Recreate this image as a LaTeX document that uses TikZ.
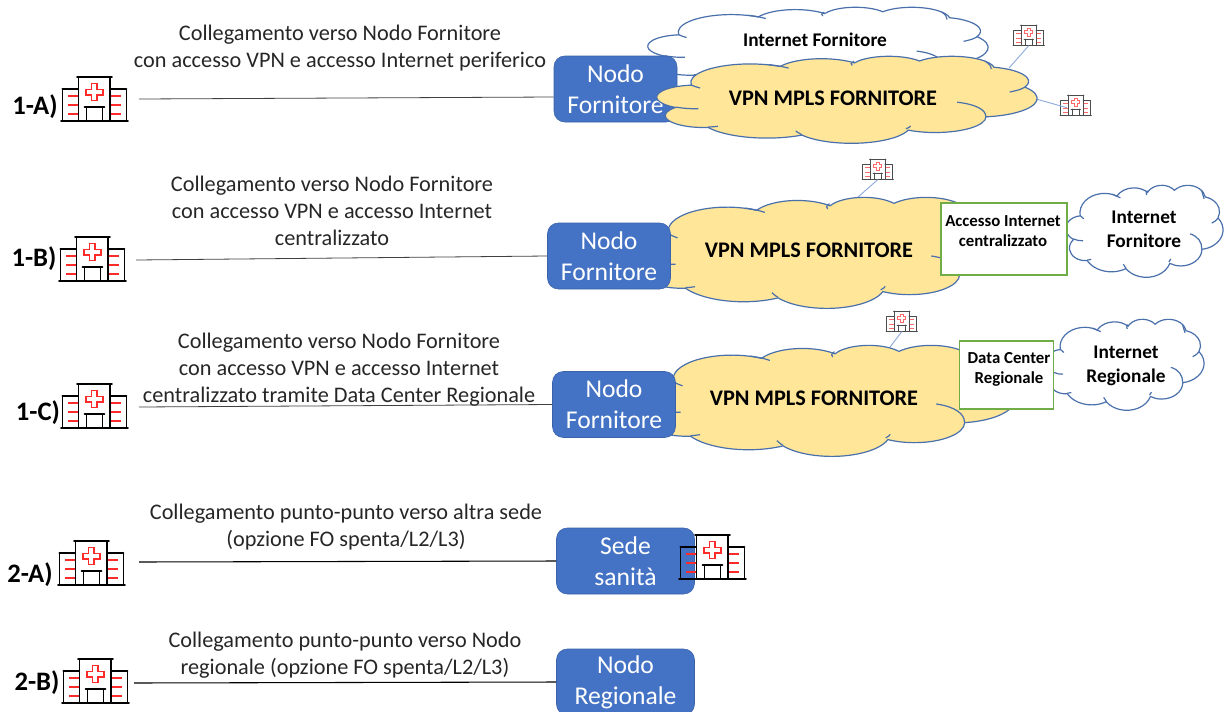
\documentclass[tikz,border=0pt]{standalone}
\usepackage{fontspec}
\setmainfont{Carlito}
\usetikzlibrary{calc}
\definecolor{nodeblue}{HTML}{4472C4}
\definecolor{nodeline}{HTML}{2F528F}
\definecolor{cloudyellow}{HTML}{FFE699}
\definecolor{cloudline}{HTML}{4A70AC}
\definecolor{boxgreen}{HTML}{70AD47}
\definecolor{linkblue}{HTML}{8FAADC}
\definecolor{crossred}{HTML}{FF2A2A}
\definecolor{textgrey}{HTML}{262626}
\tikzset{
  pa/.style n args={4}{x radius=#1,y radius=#2,
    start angle={atan2(#1*sin(#3),#2*cos(#3))},
    delta angle={mod(atan2(#1*sin(#3+#4),#2*cos(#3+#4))-atan2(#1*sin(#3),#2*cos(#3))+720,360)}},
  cloudbox/.style 2 args={x={#1*.75pt/432},y={-#2*.75pt/432}},
  yellowcloud/.style={fill=cloudyellow,draw=cloudline,line width=.9pt},
  whitecloud/.style={fill=white,draw=cloudline,line width=.9pt},
  pptcloud/.pic={
    \path[pic actions] (39,143.7) arc[pa={67.53}{91.9}{-190.49}{123.78}]
      arc[pa={53.33}{72.67}{-144.1}{89.95}] arc[pa={43.65}{59.45}{-145.81}{99.72}]
      arc[pa={48.57}{65.95}{-130.99}{117.24}] arc[pa={53.33}{72.73}{-78.71}{109.03}]
      arc[pa={67.75}{92.2}{-46.27}{130.27}] arc[pa={57.85}{78.67}{.63}{114.03}]
      arc[pa={67.52}{92.15}{22.45}{115.17}] arc[pa={77.2}{105.43}{66.24}{75.71}]
      arc[pa={43.6}{59.18}{-274.94}{146.74}] arc[pa={43.45}{59.45}{-246.83}{152.52}] -- cycle;
    \path[pic actions,fill=none] (46.93,261.77) arc[pa={43.45}{59.45}{86.74}{26.43}]
      (69.28,348.99) arc[pa={43.6}{59.18}{73.61}{11.45}]
      (164.78,390.9) arc[pa={67.52}{92.15}{137.62}{15.23}]
      (288.27,347.51) .. controls (287,354) .. (283,361)
      (341.29,229.54) .. controls (363,240) and (374,268) .. (373.8,301)
      (417.98,155.67) .. controls (413,167) .. (401,179)
      (380,65) .. controls (379,45) .. (373,25)
      (222,47) .. controls (220,38) .. (224,26)
      (149.6,60) .. controls (140,50) .. (127,43)
      (39,143.7) .. controls (42,150) .. (49,159);
  },
  hospital/.pic={
    \path[fill=white] (17.3,0) rectangle (49,44);
    \draw[line cap=round] (16,0) -- (51,0) (17.3,0) -- (17.3,44) (49,0) -- (49,44)
      (1.3,11.7) -- (17.3,11.7) (1.3,11.7) -- (1.3,44) (49,11.7) -- (65.5,11.7) (65.5,11.7) -- (65.5,44)
      (0,44) -- (67,44) (23.5,30) -- (43.5,30) (25.5,30) -- (25.5,44) (41.5,30) -- (41.5,44);
    \draw[crossred] (30.6,6.5) -- (36,6.5) -- (36,12.3) -- (41.8,12.3) -- (41.8,17.7) -- (36,17.7)
      -- (36,23.5) -- (30.6,23.5) -- (30.6,17.7) -- (24.8,17.7) -- (24.8,12.3) -- (30.6,12.3) -- cycle;
    \draw[crossred] (7.3,18.7) -- (17,18.7) (7.3,27.7) -- (17,27.7) (7.3,36.7) -- (17,36.7)
      (50,18.7) -- (59.7,18.7) (50,27.7) -- (59.7,27.7) (50,36.7) -- (59.7,36.7);
    \coordinate (-b) at (33.5,44);
    \coordinate (-l) at (0,27);
  },
  bighospital/.style={line width=1.2pt},
  smallhospital/.style={scale=.47,line width=.6pt,opacity=.7},
  nodebox/.style={fill=nodeblue,draw=nodeline!50!nodeblue,line width=.4pt,rounded corners=8pt,text=white,align=center,
    minimum width=92.25pt,minimum height=49.5pt,inner sep=0pt,font=\fontsize{19.2}{23}\selectfont},
  descr/.style={align=center,text=textgrey,inner sep=0pt,font=\fontsize{16.7}{20.3}\selectfont},
  tag/.style={inner sep=0pt,font=\fontsize{20}{24}\selectfont\bfseries},
  cloudtext/.style={align=center,inner sep=0pt,font=\fontsize{16.7}{20}\selectfont\bfseries},
  inettext/.style={align=center,inner sep=0pt,font=\fontsize{14.5}{17.6}\selectfont\bfseries},
  greenbox/.style={draw=boxgreen,fill=white,line width=.8pt,inner sep=0pt},
  boxtext/.style={align=center,inner sep=0pt,text=black,font=\fontsize{12.6}{15}\selectfont\bfseries},
  wire/.style={draw=black!75,line width=.6pt},
  wirestrong/.style={draw=black,line width=.8pt},
  feed/.style={draw=linkblue,line width=.7pt}
}
\begin{document}
\begin{tikzpicture}[x=.75pt,y=-.75pt]
\useasboundingbox (0,0) rectangle (1232,711);
\coordinate (pA1) at (648,7);
\coordinate (pA2) at (657,56);
\coordinate (pB1) at (635,197);
\coordinate (pB2) at (1066,185);
\coordinate (pC1) at (640,345);
\coordinate (pC2) at (1046,319);

% 1-A
\node[tag] (tagA) at (35,106.5) {1-A)};
\pic[bighospital] (hA) at (61,77) {hospital};
\node[descr] (txtA) at (340,48.5) {Collegamento verso Nodo Fornitore\\con accesso VPN e accesso Internet periferico};
\pic[whitecloud,cloudbox={340}{83}] at (pA1) {pptcloud};
\node[inettext] (inA) at (815,40) {Internet Fornitore};
\node[nodebox] (nA) at (615.5,89) {\raisebox{-1pt}{Nodo}\\\raisebox{-1pt}{Fornitore}};
\coordinate (lA) at (139,99);
\draw[wire] (lA) -- ($(nA.west)+(0,8)$);
\coordinate (cA1) at (1009,68);
\coordinate (cA2) at (1036,99);
\pic[smallhospital] (sA1) at (1013,25) {hospital};
\pic[smallhospital] (sA2) at (1060,95) {hospital};
\draw[feed] (cA1) -- (sA1-b);
\draw[feed] (cA2) -- ($(sA2-l)+(7,0)$);
\pic[yellowcloud,cloudbox={380}{87}] at (pA2) {pptcloud};
\node[cloudtext] (vpnA) at (833,98) {VPN MPLS FORNITORE};

% 1-B
\node[tag] (tagB) at (34,259) {1-B)};
\pic[bighospital] (hB) at (59,237) {hospital};
\node[descr] (txtB) at (332,211) {Collegamento verso Nodo Fornitore\\con accesso VPN e accesso Internet\\centralizzato};
\coordinate (cB) at (858,197);
\pic[smallhospital] (sB) at (862,159) {hospital};
\draw[feed] (cB) -- (sB-b);
\pic[yellowcloud,cloudbox={375}{111}] at (pB1) {pptcloud};
\node[cloudtext] (vpnB) at (809,250) {VPN MPLS FORNITORE};
\node[nodebox] (nB) at (609,256) {\raisebox{-1pt}{Nodo}\\\raisebox{-1pt}{Fornitore}};
\coordinate (lB) at (136,260);
\draw[wire] (lB) -- (nB.west);
\pic[whitecloud,cloudbox={157}{92}] at (pB2) {pptcloud};
\node[inettext] (inB) at (1144,229.5) {Internet\\Fornitore};
\node[greenbox,minimum width=94.5pt,minimum height=54pt] (boxB) at (1004,239) {};
\node[boxtext] (acc) at (1003,231) {Accesso Internet\\centralizzato};

% 1-C
\node[tag] (tagC) at (38,412.5) {1-C)};
\pic[bighospital] (hC) at (61,384) {hospital};
\node[descr] (txtC) at (339,369.5) {Collegamento verso Nodo Fornitore\\con accesso VPN e accesso Internet\\centralizzato tramite Data Center Regionale};
\coordinate (cC) at (887,351);
\pic[smallhospital] (sC) at (886,311) {hospital};
\draw[feed] (cC) -- (sC-b);
\pic[yellowcloud,cloudbox={375}{111}] at (pC1) {pptcloud};
\node[cloudtext] (vpnC) at (814,398) {VPN MPLS FORNITORE};
\node[nodebox] (nC) at (614,404.5) {\raisebox{-1pt}{Nodo}\\\raisebox{-1pt}{Fornitore}};
\coordinate (lC) at (139,407);
\draw[wire] (lC) -- (nC.west);
\pic[whitecloud,cloudbox={158}{91}] at (pC2) {pptcloud};
\node[inettext] (inC) at (1126,366) {Internet\\Regionale};
\node[greenbox,minimum width=70pt,minimum height=51pt] (boxC) at (1006.5,375) {};
\node[boxtext] (dc) at (1009,369) {Data Center\\Regionale};

% 2-A
\node[tag] (tagD) at (30,574.5) {2-A)};
\pic[bighospital] (hD) at (58,541) {hospital};
\node[descr] (txtD) at (346,527.5) {Collegamento punto-punto verso altra sede\\(opzione FO spenta/L2/L3)};
\node[nodebox,minimum width=103.5pt] (nD) at (625.5,561) {Sede\\sanità};
\coordinate (lD) at (139,562);
\draw[wirestrong] (lD) -- (nD.west);
\pic[bighospital] (hDD) at (679,535) {hospital};

% 2-B
\node[tag] (tagE) at (37,682.5) {2-B)};
\pic[bighospital] (hE) at (62,659) {hospital};
\node[descr] (txtE) at (345,655) {Collegamento punto-punto verso Nodo\\regionale (opzione FO spenta/L2/L3)};
\node[nodebox,minimum width=103.5pt] (nE) at (625.5,682) {\raisebox{-2pt}{Nodo}\\\raisebox{-2pt}{Regionale}};
\coordinate (lE) at (134,683);
\draw[wirestrong] (lE) -- (nE.west);
\end{tikzpicture}
\end{document}
